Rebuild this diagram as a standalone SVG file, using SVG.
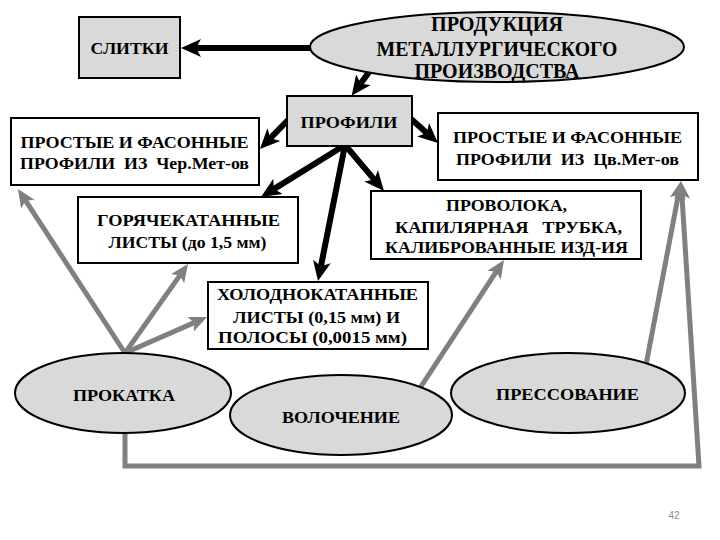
<svg xmlns="http://www.w3.org/2000/svg" width="720" height="540" viewBox="0 0 720 540">
<style>
.box{fill:#ffffff;stroke:#000;stroke-width:2}
.gbox{fill:#d9d9d9;stroke:#000;stroke-width:2}
.ell{fill:#d9d9d9;stroke:#000;stroke-width:2}
.t{font-family:'Liberation Serif','Times New Roman',serif;font-weight:bold;font-size:17px;fill:#000;text-anchor:middle;white-space:pre}
.tb{font-size:20px}
.blk{fill:none;stroke:#000;stroke-width:6}
.gry{fill:none;stroke:#808080;stroke-width:5;stroke-linejoin:miter}
.pn{font-family:'Liberation Sans',Arial,sans-serif;font-size:10px;fill:#8c8c8c;text-anchor:middle}
</style>
<defs>
<marker id="ab" markerUnits="userSpaceOnUse" markerWidth="22" markerHeight="20" viewBox="0 -10 22 20" refX="5" refY="0" orient="auto">
<path d="M0,-9 L20,0 L0,9 L5,0 Z" fill="#000"/>
</marker>
<marker id="ag" markerUnits="userSpaceOnUse" markerWidth="20" markerHeight="18" viewBox="0 -9 20 18" refX="4" refY="0" orient="auto">
<path d="M0,-8 L18,0 L0,8 L4,0 Z" fill="#808080"/>
</marker>
</defs>
<g id="connectors">
<line class="blk" x1="312" y1="48" x2="196" y2="48" marker-end="url(#ab)"/>
<line class="blk" x1="372" y1="68" x2="360.5" y2="83.7" marker-end="url(#ab)"/>
<line class="blk" x1="290" y1="118" x2="270.4" y2="138.2" marker-end="url(#ab)"/>
<line class="blk" x1="410" y1="118" x2="426.8" y2="133" marker-end="url(#ab)"/>
<line class="blk" x1="345" y1="145" x2="273.75" y2="189.1" marker-end="url(#ab)"/>
<line class="blk" x1="345" y1="145" x2="320.9" y2="266.3" marker-end="url(#ab)"/>
<line class="blk" x1="345" y1="145" x2="374.3" y2="179.6" marker-end="url(#ab)"/>
<line class="gry" x1="125" y1="353" x2="25.6" y2="200.7" marker-end="url(#ag)"/>
<line class="gry" x1="125" y1="353" x2="179.9" y2="275.4" marker-end="url(#ag)"/>
<line class="gry" x1="125" y1="353" x2="194.2" y2="322.6" marker-end="url(#ag)"/>
<line class="gry" x1="420" y1="388" x2="496.3" y2="271.7" marker-end="url(#ag)"/>
<line class="gry" x1="646" y1="365" x2="678.4" y2="194.7" marker-end="url(#ag)"/>
<polyline class="gry" points="125,433 125,466 699,466 681.9,195" marker-end="url(#ag)"/>
</g>
<g id="n-produkcia">
<ellipse class="ell" cx="497" cy="47" rx="187" ry="35"/>
<text class="t tb" x="497" y="31" textLength="132" lengthAdjust="spacingAndGlyphs">ПРОДУКЦИЯ</text>
<text class="t tb" x="497" y="56" textLength="241" lengthAdjust="spacingAndGlyphs">МЕТАЛЛУРГИЧЕСКОГО</text>
<text class="t tb" x="497" y="78" textLength="165" lengthAdjust="spacingAndGlyphs">ПРОИЗВОДСТВА</text>
</g>
<g id="n-slitki">
<rect class="gbox" x="79" y="17" width="101" height="61"/>
<text class="t" x="129.5" y="54" textLength="78" lengthAdjust="spacingAndGlyphs">СЛИТКИ</text>
</g>
<g id="n-profili">
<rect class="gbox" x="287" y="96" width="125" height="50"/>
<text class="t" x="349" y="128" textLength="97" lengthAdjust="spacingAndGlyphs">ПРОФИЛИ</text>
</g>
<g id="n-cher">
<rect class="box" x="11" y="118" width="248" height="67"/>
<text class="t" x="134.5" y="148" textLength="228" lengthAdjust="spacingAndGlyphs">ПРОСТЫЕ И ФАСОННЫЕ</text>
<text class="t" x="134.5" y="169" textLength="229" lengthAdjust="spacingAndGlyphs">ПРОФИЛИ  ИЗ  Чер.Мет-ов</text>
</g>
<g id="n-cv">
<rect class="box" x="438" y="113" width="260" height="67"/>
<text class="t" x="567.5" y="143" textLength="229" lengthAdjust="spacingAndGlyphs">ПРОСТЫЕ И ФАСОННЫЕ</text>
<text class="t" x="567.5" y="165" textLength="223" lengthAdjust="spacingAndGlyphs">ПРОФИЛИ  ИЗ  Цв.Мет-ов</text>
</g>
<g id="n-gor">
<rect class="box" x="78" y="197" width="220" height="66"/>
<text class="t" x="188.5" y="226" textLength="183" lengthAdjust="spacingAndGlyphs">ГОРЯЧЕКАТАННЫЕ</text>
<text class="t" x="187.5" y="248" textLength="158" lengthAdjust="spacingAndGlyphs">ЛИСТЫ (до 1,5 мм)</text>
</g>
<g id="n-provoloka">
<rect class="box" x="371" y="191" width="270" height="68"/>
<text class="t" x="506.5" y="211" textLength="121" lengthAdjust="spacingAndGlyphs">ПРОВОЛОКА,</text>
<text class="t" x="508.5" y="233" textLength="227" lengthAdjust="spacingAndGlyphs">КАПИЛЯРНАЯ   ТРУБКА,</text>
<text class="t" x="506.5" y="253" textLength="243" lengthAdjust="spacingAndGlyphs">КАЛИБРОВАННЫЕ ИЗД-ИЯ</text>
</g>
<g id="n-hol">
<rect class="box" x="208" y="282" width="220" height="67"/>
<text class="t" x="317.5" y="300" textLength="201" lengthAdjust="spacingAndGlyphs">ХОЛОДНОКАТАННЫЕ</text>
<text class="t" x="316.5" y="323" textLength="167" lengthAdjust="spacingAndGlyphs">ЛИСТЫ (0,15 мм) И</text>
<text class="t" x="312.5" y="343" textLength="189" lengthAdjust="spacingAndGlyphs">ПОЛОСЫ (0,0015 мм)</text>
</g>
<g id="n-prokatka">
<ellipse class="ell" cx="123" cy="393" rx="108" ry="40"/>
<text class="t" x="124" y="401" textLength="102" lengthAdjust="spacingAndGlyphs">ПРОКАТКА</text>
</g>
<g id="n-volochenie">
<ellipse class="ell" cx="341" cy="415" rx="111" ry="40"/>
<text class="t" x="341" y="423" textLength="118" lengthAdjust="spacingAndGlyphs">ВОЛОЧЕНИЕ</text>
</g>
<g id="n-pressovanie">
<ellipse class="ell" cx="568" cy="393" rx="117" ry="40"/>
<text class="t" x="567.5" y="400" textLength="143" lengthAdjust="spacingAndGlyphs">ПРЕССОВАНИЕ</text>
</g>
<text class="pn" x="674" y="519">42</text>
</svg>
